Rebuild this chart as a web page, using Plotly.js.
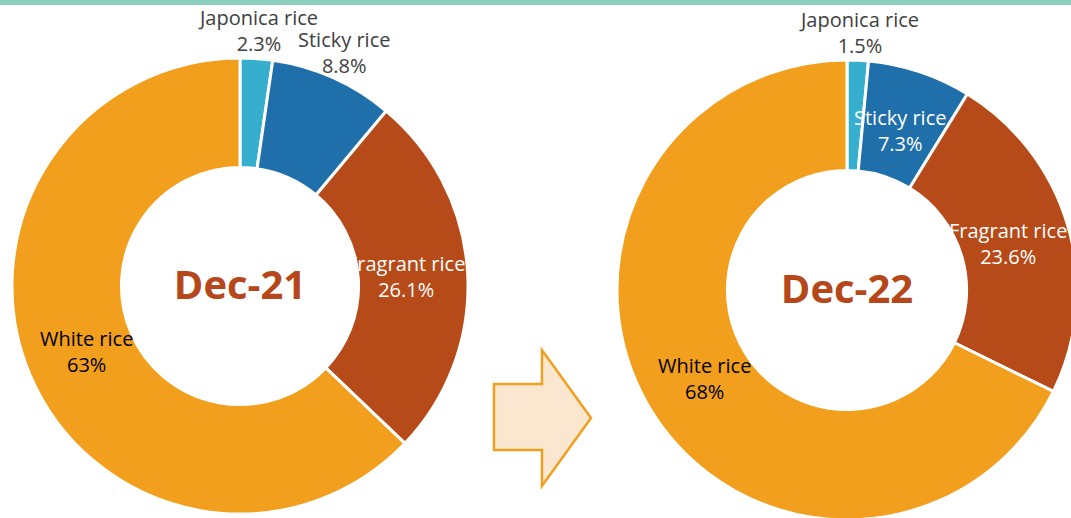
<!DOCTYPE html>
<html>
<head>
<meta charset="utf-8">
<script src="https://cdn.plot.ly/plotly-3.0.1.min.js"></script>
<style>
html,body{margin:0;padding:0;overflow:hidden;background:#fff;}
#chart{width:1090px;height:530px;}
</style>
</head>
<body>
<div id="chart"></div>
<script>
// Data
var categories = ['Japonica rice', 'Sticky rice', 'Fragrant rice', 'White rice'];
var periods = ['Dec-21', 'Dec-22'];
var sharesDec21 = [2.3, 8.8, 26.1, 63];
var sharesDec22 = [1.5, 7.3, 23.6, 68];

// Styling / layout constants
var colors = ['#36afcf', '#1f6fab', '#b64a18', '#f19f1c'];
var W = 1090, H = 530;
var HOLE = 0.52;
var FONT = 'Open Sans, sans-serif';
function px(x){return x / W;}
function py(y){return (H - y) / H;}

var pies = [
  {vals: sharesDec21, title: periods[0], cx: 240, cy: 286, r: 228,
   pos: ['outside', 'outside', 'inside', 'inside'],
   cols: ['#404040', '#404040', '#ffffff', '#000000']},
  {vals: sharesDec22, title: periods[1], cx: 847, cy: 290, r: 230,
   pos: ['outside', 'inside', 'inside', 'inside'],
   cols: ['#404040', '#ffffff', '#ffffff', '#000000']}
];

var traces = [];
var annotations = [];

pies.forEach(function(p){
  traces.push({
    type: 'pie',
    labels: categories,
    values: p.vals,
    sort: false,
    direction: 'clockwise',
    rotation: 0,
    hole: HOLE,
    domain: {x: [px(p.cx - p.r), px(p.cx + p.r)], y: [py(p.cy + p.r), py(p.cy - p.r)]},
    marker: {colors: colors, line: {color: '#ffffff', width: 3}},
    textinfo: 'none',
    automargin: false,
    showlegend: false,
    hoverinfo: 'label+value',
    title: {text: '<b>' + p.title + '</b>', position: 'middle center',
            font: {family: FONT, size: 40, color: '#b5471a'}}
  });

  // data labels placed at each slice's mid-angle
  var total = p.vals.reduce(function(a, b){return a + b;}, 0);
  var cum = 0;
  p.vals.forEach(function(v, i){
    var mid = (cum + v / 2) / total * 2 * Math.PI;
    cum += v;
    var rr = p.pos[i] === 'outside' ? p.r + 28 : p.r * 0.73;
    var x = p.cx + rr * Math.sin(mid);
    var y = p.cy - rr * Math.cos(mid);
    annotations.push({
      xref: 'paper', yref: 'paper', x: px(x), y: py(y),
      xanchor: 'center', yanchor: 'middle', showarrow: false,
      text: categories[i] + '<br>' + v + '%',
      font: {family: FONT, size: 20, color: p.cols[i]}
    });
  });
});

var arrowPts = [[494,384],[542,384],[542,350],[591,418],[542,486],[542,450],[494,450]];
var arrowPath = arrowPts.map(function(pt, i){
  return (i === 0 ? 'M' : 'L') + px(pt[0]) + ',' + py(pt[1]);
}).join(' ') + ' Z';

var layout = {
  width: W, height: H,
  margin: {l: 0, r: 0, t: 0, b: 0},
  paper_bgcolor: '#ffffff',
  font: {family: FONT},
  annotations: annotations,
  shapes: [
    {type: 'rect', xref: 'paper', yref: 'paper', x0: 0, x1: 1, y0: py(5), y1: 1,
     fillcolor: '#8dcfbe', line: {width: 0}},
    {type: 'path', xref: 'paper', yref: 'paper', path: arrowPath,
     fillcolor: '#fbe7d0', line: {color: '#f19f1c', width: 2.5}}
  ]
};

Plotly.newPlot('chart', traces, layout, {displayModeBar: false, staticPlot: true});
</script>
</body>
</html>
